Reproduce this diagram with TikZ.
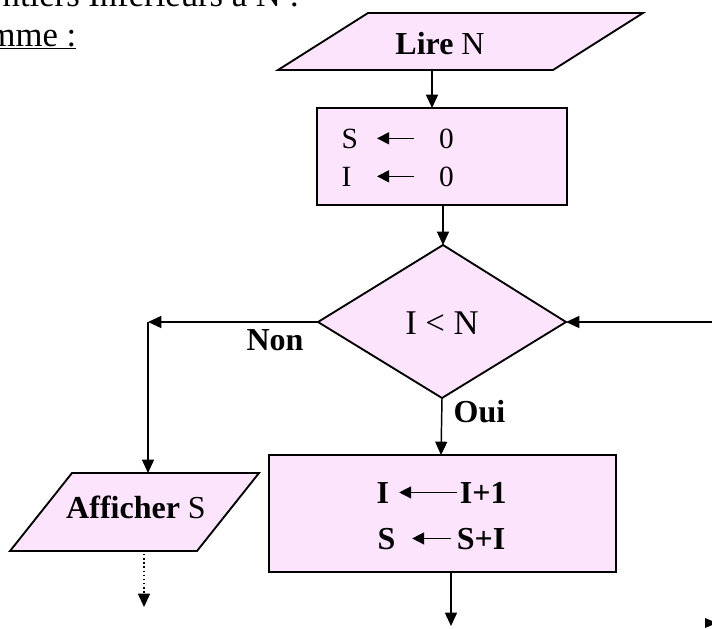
\documentclass[tikz,border=0pt]{standalone}
\usepackage{fontspec}
\setmainfont{Liberation Serif}
\usetikzlibrary{arrows.meta}
\definecolor{boxpink}{RGB}{253,228,253}
\newcommand{\affect}[1]{\tikz[baseline=-0.33em]\draw[line width=1pt,-{Triangle[length=9pt,width=9pt]}] (#1,0) -- (0,0);}
\begin{document}
\begin{tikzpicture}[x=0.75pt,y=0.75pt,yscale=-1,xscale=1,
  shapebox/.style={draw,line width=1.4pt,fill=boxpink},
  flowline/.style={line width=1.1pt,-{Triangle[length=10pt,width=9pt]}},
  bigtxt/.style={font=\fontsize{26}{30}\selectfont},
  midtxt/.style={font=\fontsize{24}{28}\selectfont},
  midbold/.style={font=\fontsize{24}{28}\selectfont\bfseries},
  smalltxt/.style={font=\fontsize{22}{26}\selectfont}]
\useasboundingbox (0,0) rectangle (712,628);

% heading, cut by the frame
\draw (-2,7) node[anchor=base west,bigtxt] (titre) {ntiers Inférieurs à N :};
\draw (81,46) node[anchor=base east,bigtxt] (algo) {\underline{mme :}};

% Lire N
\draw[shapebox] (368,13) -- (643,13) -- (553,70) -- (278,70) -- cycle;
\draw (440,44) node[midtxt] (lire) {\textbf{Lire} N};
\coordinate (lire-out) at (432,70);
\coordinate (init-in) at (432,108);

% S <- 0, I <- 0
\draw[shapebox] (317,108) rectangle (567,205);
\draw (337,148) node[anchor=base west,smalltxt] (init-s) {\makebox[26pt][l]{S}\affect{28pt}\hspace{18pt}0};
\draw (337,186) node[anchor=base west,smalltxt] (init-i) {\makebox[26pt][l]{I}\affect{28pt}\hspace{18pt}0};
\coordinate (init-out) at (443,205);

% test I < N
\draw[shapebox] (443,245) coordinate (test-top) -- (566,322) coordinate (test-right)
  -- (442,398) coordinate (test-bot) -- (318,322) coordinate (test-left) -- cycle;
\draw (442,323) node[bigtxt] (test) {I < N};
\coordinate (boucle) at (716,322);
\coordinate (non-coin) at (148,322);

% I <- I+1, S <- S+I
\draw[shapebox] (269,455) rectangle (616,572);
\draw (372,503) node[anchor=base west,midbold] (corps-i) {I\hspace{7pt}\affect{43pt}\hspace{2pt}I+1};
\draw (373,549) node[anchor=base west,midbold] (corps-s) {S\hspace{12pt}\affect{29pt}\hspace{4pt}S+I};
\coordinate (corps-in) at (441,455);
\coordinate (corps-out) at (451,572);
\coordinate (suite) at (451,626);

% Afficher S
\draw[shapebox] (72,473) -- (259,473) -- (197,551) -- (10,551) -- cycle;
\draw (136,507) node[midtxt] (affiche) {\textbf{Afficher} S};
\coordinate (aff-in) at (148,473);
\coordinate (aff-out) at (144,554);
\coordinate (fin) at (144,607);

% connectors
\draw[flowline] (lire-out) -- (init-in);
\draw[flowline] (init-out) -- (test-top);
\draw[flowline] (boucle) -- (test-right);
\draw[flowline] (test-left) -- (non-coin);
\draw[flowline] (non-coin) -- (aff-in);
\draw[flowline] (test-bot) -- (corps-in);
\draw[flowline] (corps-out) -- (suite);
\draw[flowline,dotted] (aff-out) -- (fin);
\fill (705,618) -- (717,623) -- (705,628) -- cycle;

\draw (275,340) node[midbold] (non) {Non};
\draw (449,412) node[anchor=west,midbold] (oui) {Oui};
\end{tikzpicture}
\end{document}
